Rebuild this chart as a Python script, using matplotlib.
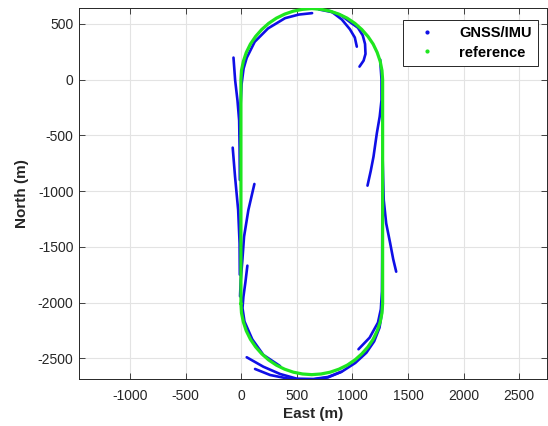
import matplotlib
matplotlib.use("Agg")
import matplotlib.pyplot as plt
from matplotlib.lines import Line2D

plt.rcParams["font.family"] = ["Liberation Sans", "DejaVu Sans"]
plt.rcParams["axes.unicode_minus"] = False

# reference track (closed loop, clockwise from left straight), metres
ref_east = [-2, -2, 3, 20, 46, 83, 130, 185, 247, 317, 391, 470, 552, 635,
            718, 800, 879, 953, 1023, 1085, 1140, 1187, 1223, 1250, 1266, 1272,
            1272, 1266, 1250, 1223, 1187, 1140, 1085, 1023, 953, 879, 800, 718, 635,
            552, 470, 391, 317, 247, 185, 130, 83, 46, 20, 3, -2]
ref_north = [-2010, 0, 83, 165, 244, 319, 388, 450, 505, 552, 588, 615, 631, 638,
             631, 615, 588, 552, 505, 450, 388, 319, 244, 165, 83, 0,
             -2010, -2093, -2175, -2254, -2329, -2398, -2460, -2515, -2562, -2598, -2625, -2641, -2647,
             -2641, -2625, -2598, -2562, -2515, -2460, -2398, -2329, -2254, -2175, -2093, -2010]

# GNSS/IMU solution pieces (east list, north list)
seg_top_left = ([-12, -14, -18, -33, -54, -69],
                [-900, -600, -366, -187, -6, 198])
seg_v_left = ([-12, -14, -27, -55, -76],
              [-1750, -1468, -1169, -870, -610])
seg_v_right = ([-10, -4, 11, 26, 65, 119],
               [-1944, -1800, -1618, -1409, -1169, -936])
seg_low_left = ([350, 200, 100, 30, 12, 20, 38, 56],
                [-2570, -2470, -2330, -2170, -2050, -1950, -1820, -1669])
seg_top_arc = ([-10, -6, 4, 22, 50, 122, 242, 395, 518, 638],
               [-500, -250, -39, 100, 196, 340, 460, 552, 584, 597])
seg_top_right_in = ([700, 818, 905, 978, 1022, 1040],
                    [630, 606, 540, 452, 378, 296])
seg_top_right_out = ([750, 900, 985, 1050, 1093, 1114, 1118, 1101, 1064],
                     [632, 577, 512, 466, 398, 320, 231, 171, 117])
seg_right_upper = ([1250, 1262, 1262, 1246, 1220, 1190, 1165, 1136],
                   [180, 0, -183, -330, -481, -691, -820, -951])
seg_right_lower = ([1272, 1277, 1282, 1304, 1340, 1367, 1394],
                   [-700, -900, -1080, -1289, -1468, -1610, -1723])
seg_bottom_right = ([1270, 1268, 1266, 1256, 1230, 1155, 1055],
                    [-1000, -1600, -1900, -2060, -2180, -2315, -2419])
seg_bottom_a = ([1272, 1270, 1264, 1244, 1196, 1126, 1026, 905, 780, 650, 500, 350, 200, 50],
                [-1800, -2000, -2100, -2225, -2348, -2450, -2542, -2620, -2668, -2686, -2683, -2641, -2576, -2491])
seg_bottom_b = ([900, 780, 650, 520, 410, 260, 125],
                [-2622, -2672, -2690, -2690, -2680, -2650, -2596])

gnss_segments = [seg_top_left, seg_v_left, seg_v_right, seg_low_left, seg_top_arc,
                 seg_top_right_in, seg_top_right_out, seg_right_upper, seg_right_lower,
                 seg_bottom_right, seg_bottom_a, seg_bottom_b]

BLUE = "#0f0fe6"
GREEN = "#1fe61f"
DARK = "#262626"

fig = plt.figure(figsize=(5.48, 4.26), dpi=100)
ax = fig.add_axes([79 / 548, 1 - 379 / 426, 468 / 548, 371 / 426])

for east, north in gnss_segments:
    ax.plot(east, north, color=BLUE, lw=1.9, solid_capstyle="round",
            solid_joinstyle="round", zorder=2)
ax.plot(ref_east, ref_north, color=GREEN, lw=2.3, solid_capstyle="round",
        solid_joinstyle="round", zorder=3)

ax.set_xlim(-1458, 2750)
ax.set_ylim(-2686, 643)
ax.set_xticks(range(-1000, 3000, 500))
ax.set_yticks(range(-2500, 1000, 500))
ax.grid(True, color="#e3e3e3", lw=0.8)
ax.set_axisbelow(True)
ax.tick_params(direction="in", top=True, right=True, length=4, width=0.6,
               colors=DARK, labelsize=10)
ax.tick_params(axis="x", pad=7)
ax.tick_params(axis="y", pad=4)
for sp in ax.spines.values():
    sp.set_color(DARK)
    sp.set_linewidth(0.7)

ax.set_xlabel("East (m)", fontsize=11, fontweight="bold", color=DARK, labelpad=3)
ax.set_ylabel("North (m)", fontsize=11, fontweight="bold", color=DARK, labelpad=6)

handles = [Line2D([], [], ls="none", marker=".", ms=4, color=BLUE),
           Line2D([], [], ls="none", marker=".", ms=4, color=GREEN)]
leg = ax.legend(handles, ["GNSS/IMU", "reference"], loc="upper right",
                bbox_to_anchor=(0.981, 0.968), borderaxespad=0, fancybox=False,
                framealpha=1, edgecolor=DARK, handlelength=2.4, handletextpad=1.0,
                borderpad=0.45, labelspacing=0.35,
                prop={"weight": "bold", "size": 10.5})
leg.get_frame().set_linewidth(0.7)

fig.savefig("out.png", dpi=100)
